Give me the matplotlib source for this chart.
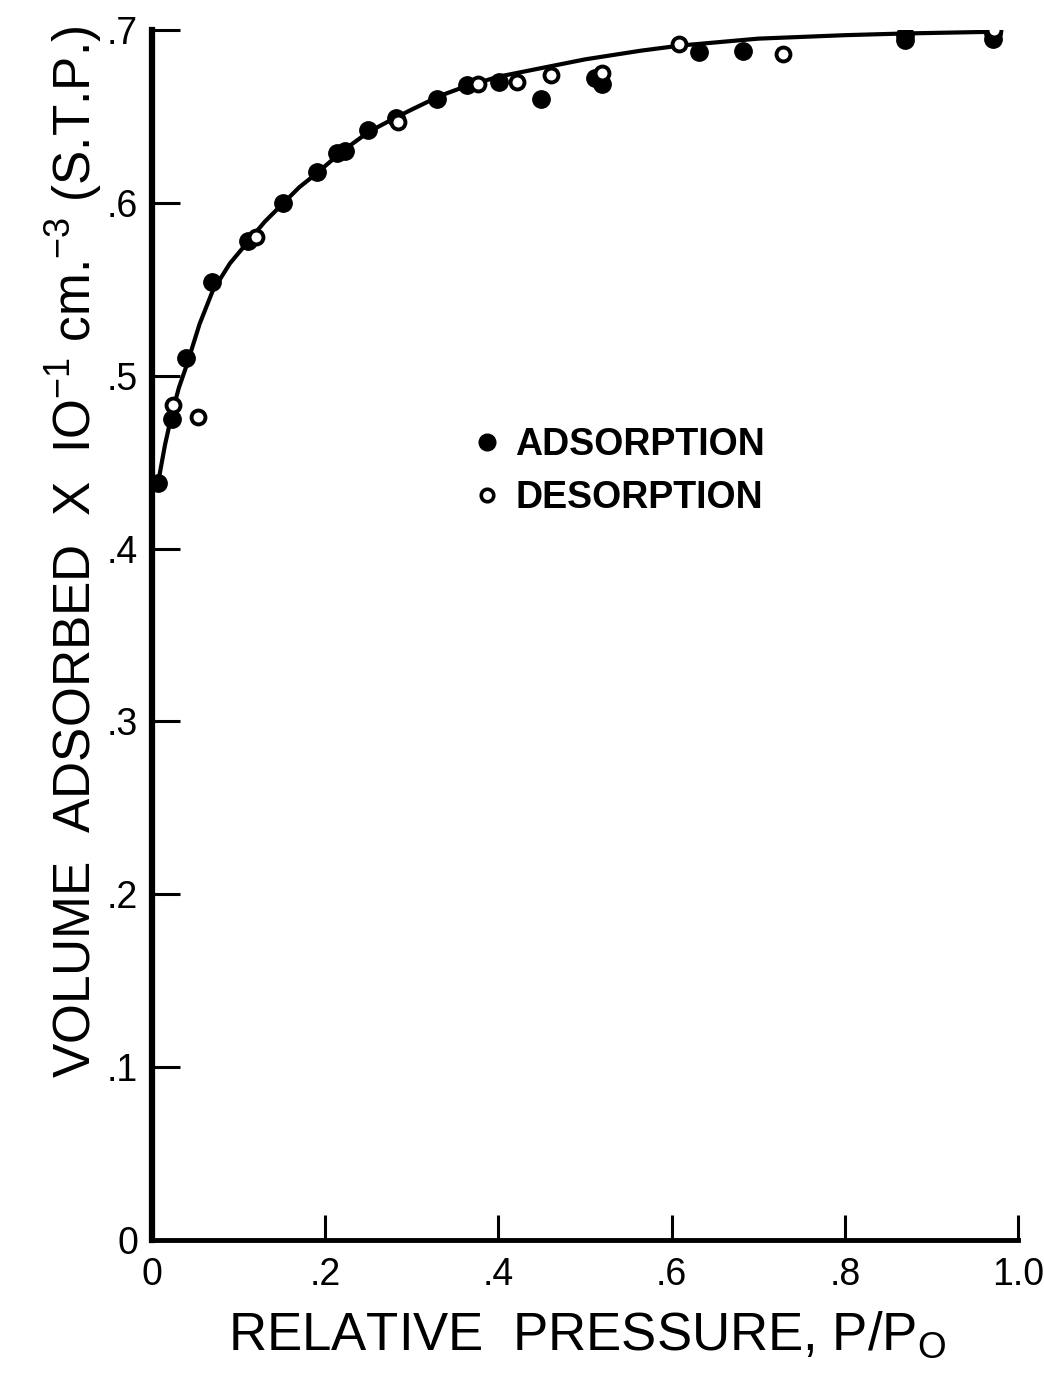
import matplotlib
matplotlib.use("Agg")
import matplotlib.pyplot as plt
from matplotlib import font_manager
from matplotlib.lines import Line2D

# adsorption points (filled)
ads_x = [0.007, 0.023, 0.039, 0.069, 0.111, 0.151, 0.191, 0.214, 0.223, 0.249,
         0.282, 0.329, 0.364, 0.401, 0.449, 0.511, 0.520, 0.632, 0.682, 0.869,
         0.870, 0.971, 0.971]
ads_y = [0.438, 0.475, 0.510, 0.554, 0.578, 0.600, 0.618, 0.629, 0.630, 0.642,
         0.649, 0.660, 0.668, 0.670, 0.660, 0.672, 0.669, 0.687, 0.688, 0.694,
         0.697, 0.695, 0.698]

# desorption points (open)
des_x = [0.024, 0.053, 0.120, 0.284, 0.376, 0.421, 0.461, 0.520, 0.609, 0.729, 0.972]
des_y = [0.483, 0.476, 0.580, 0.647, 0.669, 0.670, 0.674, 0.675, 0.692, 0.686, 0.700]

# hand-drawn smooth curve
curve_x = [0.007, 0.015, 0.023, 0.031, 0.040, 0.055, 0.070, 0.090, 0.110, 0.130,
           0.150, 0.170, 0.190, 0.220, 0.250, 0.280, 0.300, 0.333, 0.360, 0.400,
           0.460, 0.500, 0.564, 0.610, 0.700, 0.800, 0.870, 0.975]
curve_y = [0.438, 0.460, 0.478, 0.493, 0.506, 0.530, 0.549, 0.565, 0.577, 0.589,
           0.599, 0.609, 0.617, 0.630, 0.641, 0.649, 0.654, 0.662, 0.667, 0.673,
           0.679, 0.683, 0.688, 0.691, 0.695, 0.697, 0.698, 0.699]

xticks = [0, 0.2, 0.4, 0.6, 0.8, 1.0]
xtick_labels = ["0", ".2", ".4", ".6", ".8", "1.0"]
yticks = [0, 0.1, 0.2, 0.3, 0.4, 0.5, 0.6, 0.7]
ytick_labels = ["0", ".1", ".2", ".3", ".4", ".5", ".6", ".7"]

# narrow sans font if present
names = {f.name for f in font_manager.fontManager.ttflist}
font = "Liberation Sans Narrow" if "Liberation Sans Narrow" in names else "Liberation Sans"
plt.rcParams["font.family"] = [font, "DejaVu Sans"]
plt.rcParams["mathtext.fontset"] = "custom"
plt.rcParams["mathtext.rm"] = font
plt.rcParams["mathtext.it"] = font

fig = plt.figure(figsize=(10.44, 13.76), dpi=100)
ax = fig.add_axes([0.1456, 0.0988, 0.8295, 0.8794])

ax.plot(curve_x, curve_y, color="black", lw=3, solid_capstyle="round",
        solid_joinstyle="round", zorder=2)
ax.plot(ads_x, ads_y, "o", color="black", ms=12.5, zorder=3)
ax.plot(des_x, des_y, "o", mfc="white", mec="black", mew=2.8, ms=10, zorder=4)

ax.set_xlim(0, 1.0)
ax.set_ylim(0, 0.7)
ax.set_xticks(xticks)
ax.set_xticklabels(xtick_labels)
ax.set_yticks(yticks)
ax.set_yticklabels(ytick_labels)

for s in ["top", "right"]:
    ax.spines[s].set_visible(False)
ax.spines["left"].set_linewidth(4.5)
ax.spines["bottom"].set_linewidth(3.5)
ax.tick_params(axis="x", direction="in", length=18, width=2.2, pad=12, labelsize=27)
ax.tick_params(axis="y", direction="in", length=20, width=2.2, pad=10, labelsize=27)

ax.set_xlabel("RELATIVE  PRESSURE, P/P$_{\\mathrm{O}}$", fontsize=38)
ax.xaxis.set_label_coords(0.503, -0.058)
ax.set_ylabel("VOLUME  ADSORBED  X  IO$^{-1}$ cm.$^{-3}$ (S.T.P.)", fontsize=37)
ax.yaxis.set_label_coords(-0.055, 0.569)

handles = [
    Line2D([], [], ls="none", marker="o", color="black", ms=12),
    Line2D([], [], ls="none", marker="o", mfc="white", mec="black", mew=2.6, ms=9),
]
ax.legend(handles, ["ADSORPTION", "DESORPTION"], loc="upper left",
          bbox_to_anchor=(0.335, 0.70), frameon=False, handlelength=0.6,
          handletextpad=0.45, labelspacing=0.45,
          prop={"size": 27, "weight": "bold"})

fig.savefig("out.png", dpi=100)
